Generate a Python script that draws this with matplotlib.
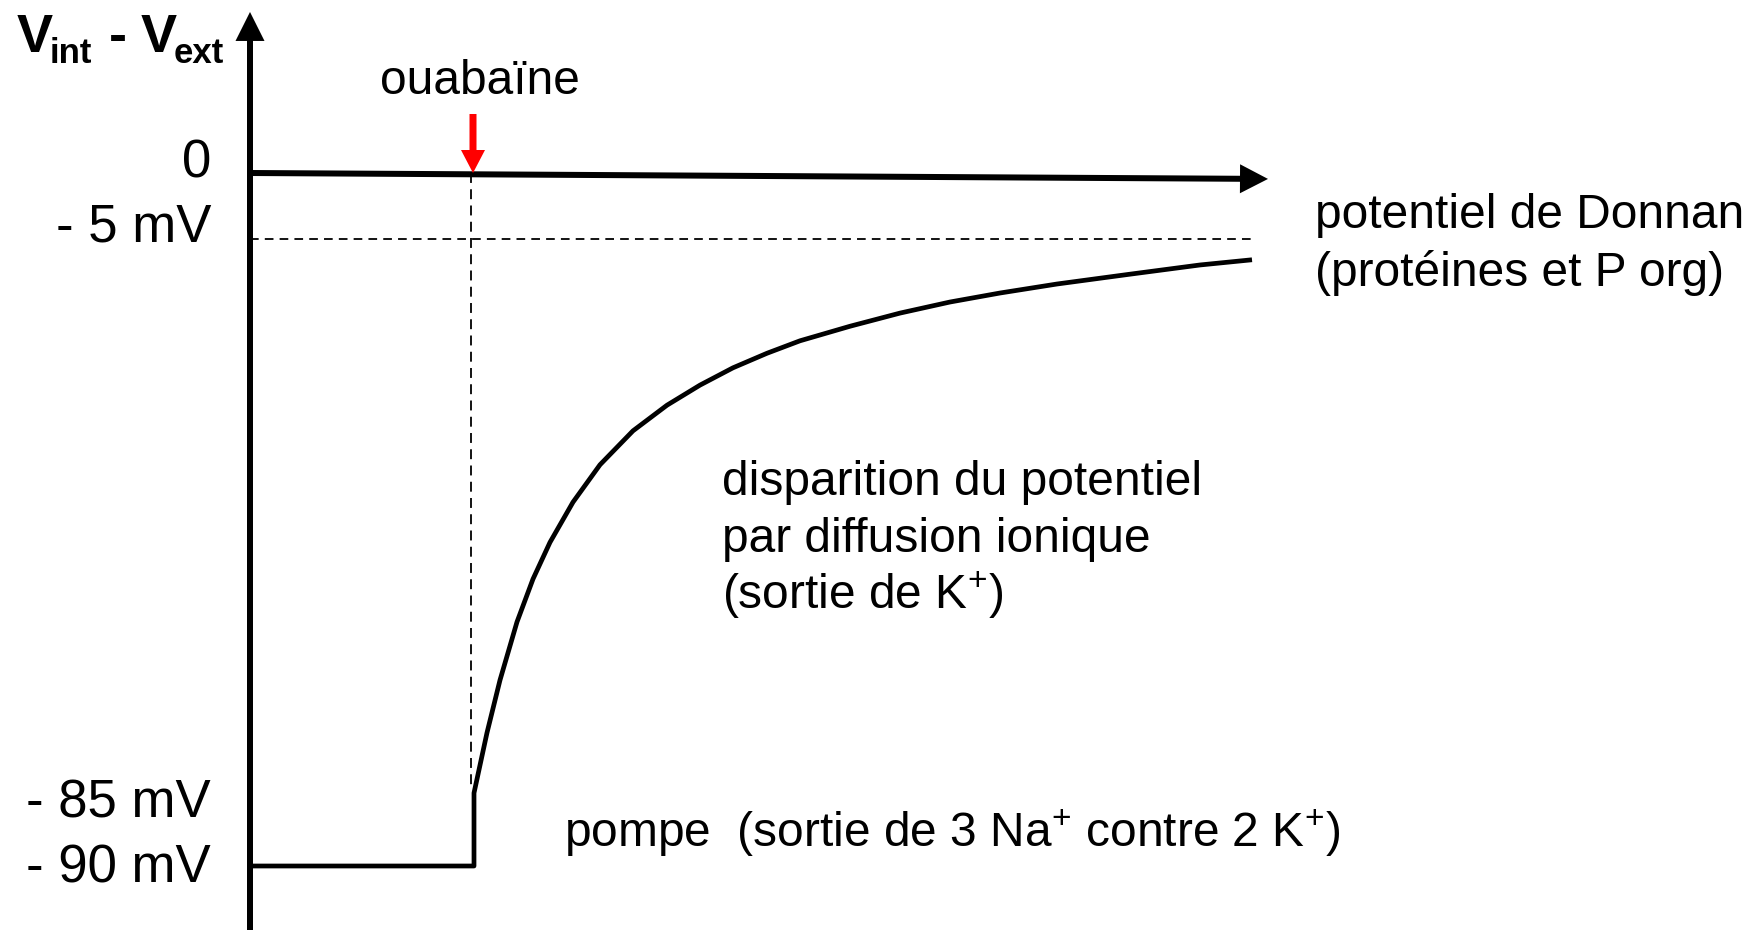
import numpy as np
import matplotlib
matplotlib.use("Agg")
import matplotlib.pyplot as plt

plt.rcParams['font.family'] = ['Liberation Sans', 'DejaVu Sans']
plt.rcParams['mathtext.fontset'] = 'custom'
plt.rcParams['mathtext.rm'] = 'Liberation Sans'
plt.rcParams['mathtext.bf'] = 'Liberation Sans:bold'
plt.rcParams['mathtext.it'] = 'Liberation Sans:italic'

# ---------------- data ----------------
level_values = [0, -5, -85, -90]                 # mV
level_labels = ['0', '- 5 mV', '- 85 mV', '- 90 mV']
pump_mv = -90
ouabain_jump_mv = -85
donnan_mv = -5
t_ouabain = 22.4
t_axis_end = 101.8
zero_axis_end_mv = -0.45
# membrane potential after ouabain (time in a.u., potential in mV)
recovery_t = [22.4, 23.7, 25.0, 26.7, 28.3, 30.0, 32.3, 35.0, 38.3, 41.7, 45.0,
              48.3, 51.7, 55.0, 60.0, 65.0, 70.0, 75.0, 80.7, 87.9, 95.0, 100.2]
recovery_mv = [-85.0, -76.3, -68.7, -60.3, -54.1, -48.8, -43.0, -37.6, -32.7, -29.0,
               -26.1, -23.6, -21.5, -19.7, -17.6, -15.7, -14.1, -12.8, -11.5, -10.1,
               -8.75, -8.0]
donnan_end_t = 100.6

# ------------- schematic (non-linear) vertical scale -------------
SC_LEVELS = np.array([-90., -85., -5., 0.])
SC_POS = np.array([-866., -793., -239., -173.])


def _pl(v, xs, ys):
    v = np.asarray(v, dtype=float)
    out = np.interp(v, xs, ys)
    s_lo = (ys[1] - ys[0]) / (xs[1] - xs[0])
    s_hi = (ys[-1] - ys[-2]) / (xs[-1] - xs[-2])
    out = np.where(v < xs[0], ys[0] + (v - xs[0]) * s_lo, out)
    out = np.where(v > xs[-1], ys[-1] + (v - xs[-1]) * s_hi, out)
    return out


def fwd(v):
    return _pl(v, SC_LEVELS, SC_POS)


def inv(p):
    return _pl(p, SC_POS, SC_LEVELS)


W, H = 1751, 930
fig = plt.figure(figsize=(W / 100, H / 100), dpi=100)
ax = fig.add_axes([0, 0, 1, 1])
ax.set_yscale('function', functions=(fwd, inv))
ax.set_xlim(-25.0, (W - 250) / 10)
ax.set_ylim(float(inv(-H)), float(inv(0)))
ax.set_axis_off()


def arrow(start, end, color, tail_px, head_w_px, head_l_px):
    style = (f'simple,head_length={head_l_px / 100},'
             f'head_width={head_w_px / 100},tail_width={tail_px / 100}')
    ax.annotate('', xy=end, xytext=start,
                arrowprops=dict(arrowstyle=style, mutation_scale=72, color=color,
                                lw=0, shrinkA=0, shrinkB=0))


# axes arrows
arrow((0, float(inv(-H))), (0, 12.2), 'black', 6, 29, 29)
arrow((0, 0), (t_axis_end, zero_axis_end_mv), 'black', 6, 29, 28)

# dashed reference lines
ax.plot([0, donnan_end_t], [donnan_mv, donnan_mv], color='black', lw=1.3,
        dashes=(4.8, 3.4))
ax.plot([22.1, 22.1], [0, ouabain_jump_mv + 0.4], color='black', lw=1.3,
        dashes=(5.5, 3.5))

# potential trace
trace_t = [0, t_ouabain] + recovery_t
trace_mv = [pump_mv, pump_mv] + recovery_mv
ax.plot(trace_t, trace_mv, color='black', lw=3.4, solid_joinstyle='round',
        solid_capstyle='butt')

# ouabain red arrow
arrow((22.3, 4.47), (22.3, 0.0), '#ff0000', 7, 24, 23)


def ftext(x, y, s, **kw):
    fig.text(x / W, 1 - y / H, s, va='baseline', **kw)


# axis title  V_int - V_ext  (bold, subscripts drawn as smaller lowered text)
title_parts = [('V', 17, 52, 39), ('int', 50, 63, 25), ('-', 109, 52, 39),
               ('V', 141, 52, 39), ('ext', 174, 63, 25)]
for s, x, yb, fs in title_parts:
    ftext(x, yb, s, fontsize=fs, fontweight='bold', ha='left')

# level labels
for lab, yb in zip(level_labels, [177, 241, 817, 882]):
    ftext(211, yb, lab, fontsize=38, ha='right')

ftext(480, 94, 'ouabaïne', fontsize=34.5, ha='center')

donnan_lines = ['potentiel de Donnan', '(protéines et P org)']
for s, yb in zip(donnan_lines, [228, 286]):
    ftext(1315, yb, s, fontsize=34.5, ha='left')

diff_lines = ['disparition du potentiel', 'par diffusion ionique',
              r'(sortie de K$^{+}$)']
for s, yb in zip(diff_lines, [495, 552, 609]):
    ftext(722, yb, s, fontsize=34.5, ha='left')

ftext(564, 847, r'pompe  (sortie de 3 Na$^{+}$ contre 2 K$^{+}$)',
      fontsize=34.5, ha='left')

fig.savefig('out.png', dpi=100)
